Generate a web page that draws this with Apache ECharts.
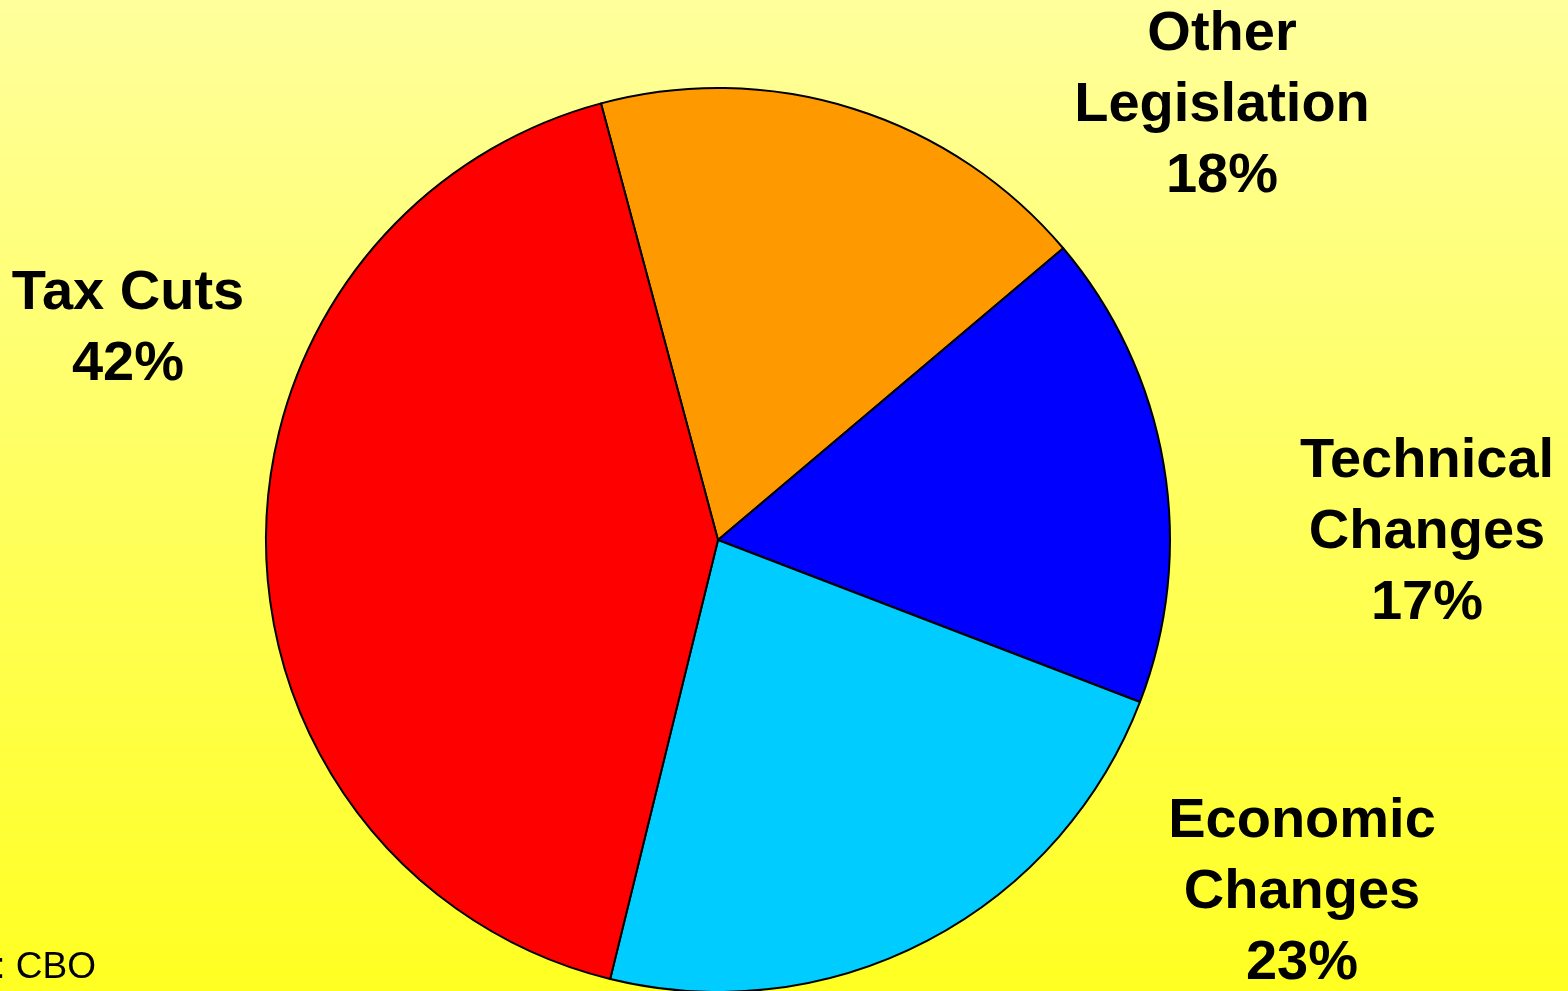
<!DOCTYPE html>
<html>
<head>
<meta charset="utf-8">
<style>
  html, body { margin: 0; padding: 0; width: 100%; height: 100%; overflow: hidden; }
  #chart { width: 1568px; height: 991px; }
</style>
<script src="https://cdn.jsdelivr.net/npm/echarts@6/dist/echarts.min.js"></script>
</head>
<body>
<div id="chart"></div>
<script>
// Sources of the deficit change, in percent
const categories = ['Other\nLegislation', 'Technical\nChanges', 'Economic\nChanges', 'Tax Cuts'];
const shares = [18, 17, 23, 42];
const sliceColors = ['#FF9900', '#0000FF', '#00CCFF', '#FF0000'];
const sourceNote = 'Source: CBO';

// Label anchor points (centre of each text block), in pixels
const labelAnchors = [
  [1222, 106],
  [1427, 533],
  [1302, 893],
  [128, 329]
];

const chart = echarts.init(document.getElementById('chart'), null, { renderer: 'canvas' });

chart.setOption({
  backgroundColor: {
    type: 'linear', x: 0, y: 0, x2: 0, y2: 1,
    colorStops: [
      { offset: 0, color: '#FFFF9C' },
      { offset: 1, color: '#FFFF22' }
    ]
  },
  animation: false,
  graphic: [{
    type: 'text',
    style: {
      text: sourceNote,
      x: 96, y: 986,
      textAlign: 'right',
      textVerticalAlign: 'bottom',
      font: '37px "Liberation Sans", Arial, sans-serif',
      fill: '#000'
    }
  }],
  series: [{
    type: 'pie',
    center: [718, 540],
    radius: 452,
    startAngle: 105,
    clockwise: true,
    avoidLabelOverlap: false,
    data: categories.map((name, i) => ({
      name: name,
      value: shares[i],
      itemStyle: { color: sliceColors[i] }
    })),
    itemStyle: { borderColor: '#000', borderWidth: 2 },
    label: {
      show: true,
      position: 'outside',
      formatter: p => p.name + '\n' + p.value + '%',
      fontFamily: '"Liberation Sans", Arial, sans-serif',
      fontWeight: 'bold',
      fontSize: 56,
      lineHeight: 71,
      color: '#000',
      align: 'center'
    },
    labelLine: { show: false },
    labelLayout: params => ({
      x: labelAnchors[params.dataIndex][0],
      y: labelAnchors[params.dataIndex][1],
      align: 'center',
      verticalAlign: 'middle',
      hideOverlap: false
    }),
    emphasis: { disabled: true }
  }]
});
</script>
</body>
</html>
